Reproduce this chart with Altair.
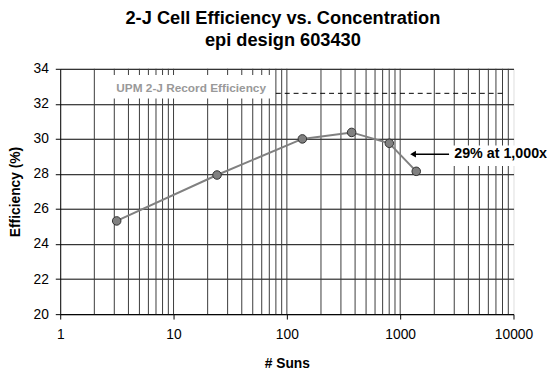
import altair as alt
import pandas as pd

# measured data
suns = [3.15, 24.2, 137, 373, 802, 1386]
efficiency = [25.32, 27.94, 30.0, 30.37, 29.75, 28.15]

# log grid values (minor + interior majors)
grid_x = [m * 10 ** k for k in range(0, 4) for m in range(2, 11)][:-1]
x_major = [1, 10, 100, 1000, 10000]
y_ticks = [20, 22, 24, 26, 28, 30, 32, 34]

# record line annotation
record_label = ["UPM 2-J Record Efficiency"]
record_label_x = [14.3]
record_label_y = [32.92]
record_box_x = [2.68]
record_box_x2 = [75.0]
record_box_y = [32.3]
record_box_y2 = [33.65]
record_line_x = [80]
record_line_x2 = [8280]
record_line_y = [32.6]

# callout annotation
callout_label = ["29% at 1,000x"]
callout_text_x = [3000]
callout_y = [29.13]
callout_arrow_x = [1300]
callout_arrow_x2 = [2700]
callout_box_x = [2750]
callout_box_x2 = [20000]
callout_box_y = [28.46]
callout_box_y2 = [29.63]

FONT = "Liberation Sans"

xscale = alt.Scale(type="log", domain=[1, 10000], nice=False)
yscale = alt.Scale(domain=[20, 34], nice=False, zero=False)

df = pd.DataFrame({"suns": suns, "eff": efficiency})

xaxis = alt.Axis(values=x_major, format="d", title="# Suns", grid=False,
                 tickSize=5, tickColor="#000", domainColor="#000",
                 labelFont=FONT, labelFontSize=14, labelColor="#000", labelPadding=9,
                 labelOverlap=False,
                 titleFont=FONT, titleFontSize=14, titleFontWeight="bold",
                 titleColor="#000", titlePadding=15, labelFlush=False)
yaxis = alt.Axis(values=y_ticks, title="Efficiency (%)", grid=True,
                 gridColor="#000", gridWidth=1, gridOpacity=1,
                 tickSize=5, tickColor="#000", domainColor="#000",
                 labelOverlap=False, labelBound=False, labelFlush=False,
                 labelFont=FONT, labelFontSize=14, labelColor="#000", labelPadding=7,
                 titleFont=FONT, titleFontSize=14, titleFontWeight="bold",
                 titleColor="#000", titlePadding=11)


def X(field):
    return alt.X(field, scale=xscale, axis=xaxis)


def Y(field):
    return alt.Y(field, scale=yscale, axis=yaxis)


vgrid = alt.Chart(pd.DataFrame({"g": grid_x})).mark_rule(
    color="#3a3a3a", strokeWidth=1
).encode(
    x=X("g:Q"),
    y=alt.value(0), y2=alt.value(249),
)

rec_box = alt.Chart(pd.DataFrame({"x": record_box_x, "x2": record_box_x2,
                                  "y": record_box_y, "y2": record_box_y2})).mark_rect(
    color="white"
).encode(x=X("x:Q"), x2="x2:Q", y=Y("y:Q"), y2="y2:Q")

rec_text = alt.Chart(pd.DataFrame({"t": record_label, "x": record_label_x,
                                   "y": record_label_y})).mark_text(
    font=FONT, fontSize=12, fontWeight="bold", color="#999999", baseline="middle"
).encode(x=X("x:Q"), y=Y("y:Q"), text="t:N")

rec_line = alt.Chart(pd.DataFrame({"x": record_line_x, "x2": record_line_x2,
                                   "y": record_line_y})).mark_rule(
    color="#000", strokeWidth=1, strokeDash=[5, 4]
).encode(x=X("x:Q"), x2="x2:Q", y=Y("y:Q"))

call_box = alt.Chart(pd.DataFrame({"x": callout_box_x, "x2": callout_box_x2,
                                   "y": callout_box_y, "y2": callout_box_y2})).mark_rect(
    color="white", clip=False
).encode(x=X("x:Q"), x2="x2:Q", y=Y("y:Q"), y2="y2:Q")

line = alt.Chart(df).mark_line(color="#808080", strokeWidth=2).encode(
    x=X("suns:Q"), y=Y("eff:Q"))
pts = alt.Chart(df).mark_point(filled=True, fill="#808080", stroke="#303030",
                               strokeWidth=1, size=75, opacity=1).encode(
    x=X("suns:Q"), y=Y("eff:Q"))

arrow_df = pd.DataFrame({"x": callout_arrow_x, "x2": callout_arrow_x2, "y": callout_y})
arrow_line = alt.Chart(arrow_df).mark_rule(color="#000", strokeWidth=1.5).encode(
    x=X("x:Q"), x2="x2:Q", y=Y("y:Q"))
arrow_head = alt.Chart(arrow_df).mark_point(shape="triangle-left", filled=True,
                                            color="#000", size=45, opacity=1).encode(
    x=X("x:Q"), y=Y("y:Q"))

call_text = alt.Chart(pd.DataFrame({"t": callout_label, "x": callout_text_x,
                                    "y": callout_y})).mark_text(
    font=FONT, fontSize=14.5, fontWeight="bold", color="#000", align="left",
    baseline="middle"
).encode(x=X("x:Q"), y=Y("y:Q"), text="t:N")

chart = alt.layer(
    vgrid, rec_box, rec_text, rec_line, call_box, line, pts,
    arrow_line, arrow_head, call_text
).properties(
    width=460, height=249,
    padding={"left": 53, "top": 59, "right": 34, "bottom": 56},
    autosize=alt.AutoSizeParams(type="none"),
    title=alt.TitleParams(
        text=["2-J Cell Efficiency vs. Concentration", "epi design 603430"],
        font=FONT, fontSize=18.5, fontWeight="bold", color="#000",
        anchor="middle", frame="group", offset=13, lineHeight=22, dx=-4,
    ),
).configure_view(stroke="#808080", strokeWidth=1).configure(background="white")

chart.save("out.html", embed_options={"renderer": "svg", "actions": False})
